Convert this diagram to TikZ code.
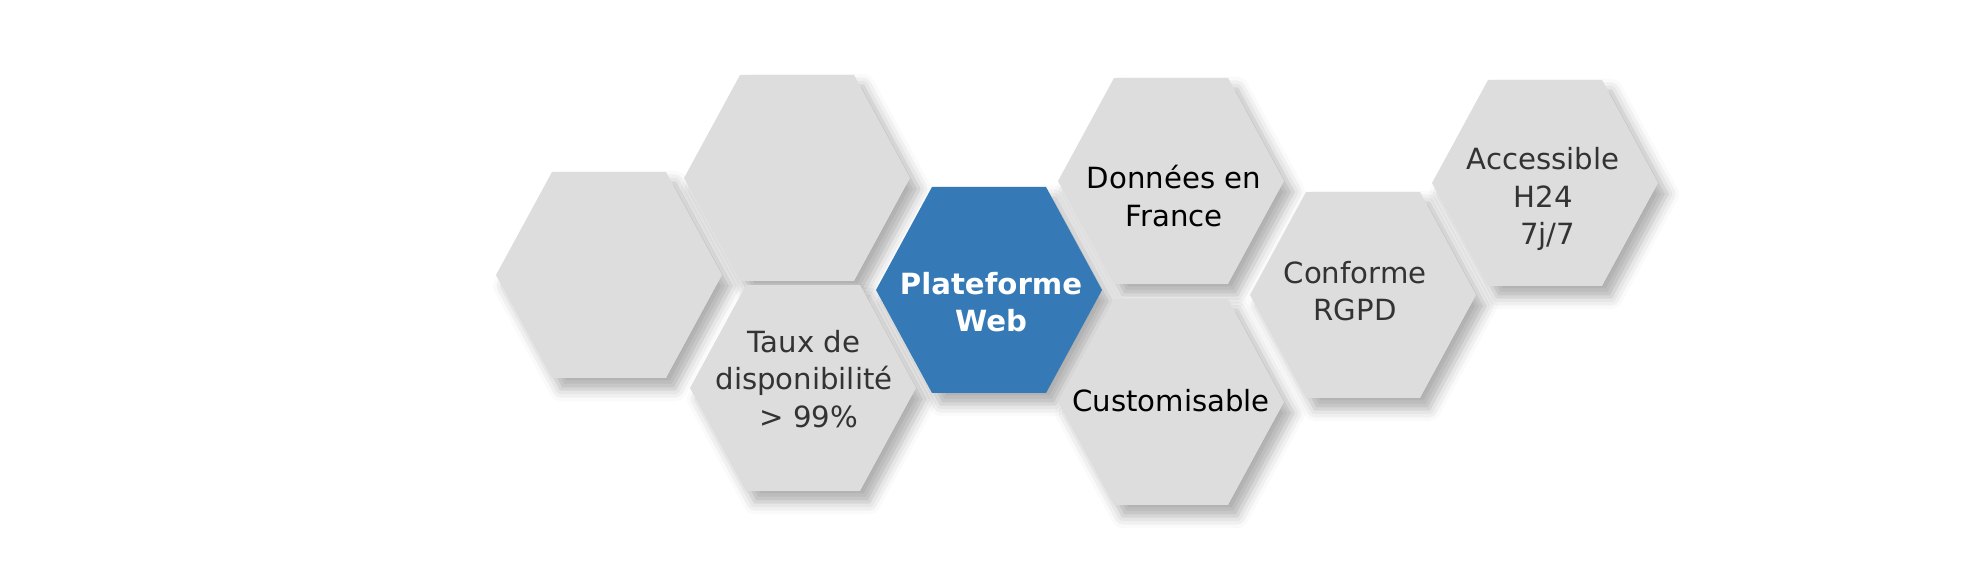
\documentclass[tikz,border=0pt]{standalone}
\usepackage{fontspec}
\setmainfont{DejaVu Sans}
\usepackage{tikz}
\usetikzlibrary{shadows.blur}

\definecolor{hexgray}{HTML}{DDDDDD}
\definecolor{hexblue}{HTML}{3579B6}
\definecolor{txtgray}{HTML}{333333}

\tikzset{
	hexcell/.style={fill=hexgray, blur shadow={shadow xshift=0.09cm, shadow yshift=-0.11cm, shadow blur radius=0.12cm, shadow opacity=32}},
	hexmain/.style={hexcell, fill=hexblue},
	hextext/.style={align=center, font=\fontsize{8.3}{10.7}\selectfont, inner sep=0pt}
}

% hexagon centred at #1
\newcommand{\hexat}[2]{\path[#2] (#1) ++(-113,0) -- ++(56,-103) -- ++(114,0) -- ++(56,103) -- ++(-56,103) -- ++(-114,0) -- cycle;}

\begin{document}
\begin{tikzpicture}[x=0.01cm, y=-0.01cm]
				\useasboundingbox (0,0) rectangle (1980,580);
				
				\hexat{609,275}{hexcell}
				\hexat{797,178}{hexcell}
				\hexat{803,388}{hexcell}
				\hexat{989,290}{hexmain}
				\hexat{1171,181}{hexcell}
				\hexat{1171,402}{hexcell}
				\hexat{1363,295}{hexcell}
				\hexat{1545,183}{hexcell}
				
				\node[hextext, txtgray] (dispo) at (804,379) {Taux de\\disponibilité\\~> 99\%};
				\node[hextext, white, font=\fontsize{8.3}{10.7}\selectfont\bfseries] (web) at (991,302) {Plateforme\\Web};
				\node[hextext, black] (donnees) at (1174,196) {Données en\\France};
				\node[hextext, black] (custom) at (1171,401) {Customisable};
				\node[hextext, txtgray] (rgpd) at (1355,291) {Conforme\\RGPD};
				\node[hextext, txtgray] (acces) at (1543,199) {Accessible\\H24\\~7j/7};
			\end{tikzpicture}
\end{document}
